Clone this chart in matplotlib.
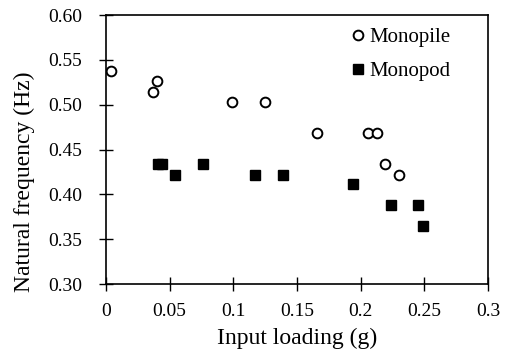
import numpy as np
import matplotlib
matplotlib.use('Agg')
import matplotlib.pyplot as plt

plt.rcParams['font.family'] = 'Liberation Serif'
plt.rcParams['font.size'] = 14

# Monopile (open circles)
pile_x = [0.004, 0.037, 0.040, 0.099, 0.125, 0.166, 0.206, 0.213, 0.219, 0.230]
pile_y = [0.537, 0.514, 0.526, 0.503, 0.503, 0.468, 0.468, 0.468, 0.434, 0.422]

# Monopod (filled squares)
pod_x = [0.041, 0.044, 0.054, 0.076, 0.117, 0.139, 0.194, 0.224, 0.245, 0.249]
pod_y = [0.434, 0.434, 0.422, 0.434, 0.422, 0.422, 0.411, 0.388, 0.388, 0.365]

xticks = [0, 0.05, 0.1, 0.15, 0.2, 0.25, 0.3]
xtick_labels = ['0', '0.05', '0.1', '0.15', '0.2', '0.25', '0.3']
yticks = [0.30, 0.35, 0.40, 0.45, 0.50, 0.55, 0.60]

fig = plt.figure(figsize=(5.09, 3.49), dpi=100)
ax = fig.add_axes([0.2083, 0.1862, 0.7504, 0.7708])

ax.plot(pile_x, pile_y, 'o', ls='none', mfc='white', mec='black', mew=1.4,
        ms=7, label='Monopile')
ax.plot(pod_x, pod_y, 's', ls='none', color='black', ms=7, label='Monopod')

ax.set_xlim(0, 0.3)
ax.set_ylim(0.30, 0.60)
ax.set_xticks(xticks)
ax.set_xticklabels(xtick_labels)
ax.set_yticks(yticks)
ax.set_yticklabels([f'{v:.2f}' for v in yticks])
ax.tick_params(direction='inout', length=10, width=1, labelsize=14, colors='black')
ax.tick_params(axis='y', pad=12)
ax.tick_params(axis='x', pad=9)
for s in ax.spines.values():
    s.set_linewidth(1.2)

ax.set_xlabel('Input loading (g)', fontsize=17, labelpad=5)
ax.set_ylabel('Natural frequency (Hz)', fontsize=17)
ax.yaxis.set_label_coords(-0.186, 0.38)

ax.legend(loc='upper right', frameon=False, fontsize=15, handletextpad=0.05,
          handlelength=1.0, borderaxespad=0.2, labelspacing=0.7,
          bbox_to_anchor=(0.935, 1.0))

fig.savefig('out.png', dpi=100)
